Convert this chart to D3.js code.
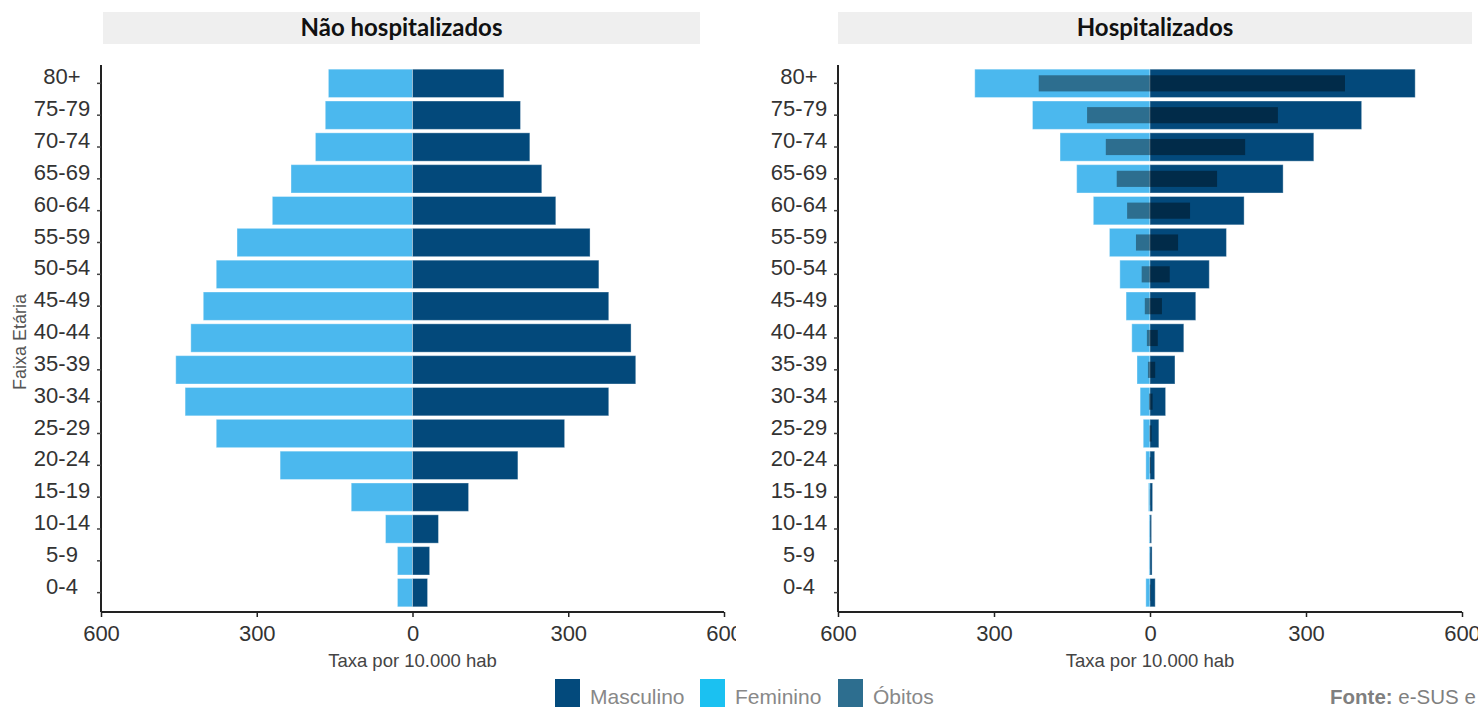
<!DOCTYPE html>
<html>
<head>
<meta charset="utf-8">
<script src="https://cdn.jsdelivr.net/npm/d3@7"></script>
<style>
  html, body { margin: 0; padding: 0; background: #fff; overflow: hidden; }
  svg { display: block; }
</style>
</head>
<body>
<svg id="chart" width="1478" height="707"></svg>
<script>
// ---- Data (top row first) ----
const categories = ["80+","75-79","70-74","65-69","60-64","55-59","50-54","45-49","40-44","35-39","30-34","25-29","20-24","15-19","10-14","5-9","0-4"];

// Não hospitalizados (taxa por 10.000 hab)
const naoHospFeminino  = [162,168,187,234,270,338,378,403,427,456,438,378,255,118,52,29,29];
const naoHospMasculino = [176,208,226,249,276,342,359,378,421,430,378,293,203,108,50,33,29];

// Hospitalizados (taxa por 10.000 hab)
const hospFeminino  = [337,226,173,141,109,78,58,46,35,25,19,13,8,3,2,2,8];
const hospMasculino = [510,407,315,256,181,147,114,88,65,48,30,17,9,5,3,4,10];
const obitosFeminino  = [214,121,85,64,44,27,16,10,6,4,2,1,0.5,0.2,0.1,0.1,0.3];
const obitosMasculino = [375,246,183,129,77,54,38,23,15,10,5,3,1.5,0.5,0.3,0.3,1];

const xTicks = [-600,-300,0,300,600];
const panelTitles = ["Não hospitalizados","Hospitalizados"];
const legendLabels = ["Masculino","Feminino","Óbitos"];

// ---- Styles ----
const colMasc = "#03497B";
const colFem = "#4BB8EE";
const legendColors = ["#034A7C","#1BC1F1","#2D6E8F"];
const tickFont = "'Liberation Sans', Arial, sans-serif";

const svg = d3.select("#chart");

const defs = svg.append("defs");
defs.append("clipPath").attr("id","clipLeft").append("rect")
  .attr("x",0).attr("y",0).attr("width",736).attr("height",707);

const panels = [
  { title: panelTitles[0], axisX: 101, right: 724, boxX: 103, boxW: 597,
    fem: naoHospFeminino, masc: naoHospMasculino, obF: null, obM: null, clip: "url(#clipLeft)" },
  { title: panelTitles[1], axisX: 838, right: 1462, boxX: 838, boxW: 634,
    fem: hospFeminino, masc: hospMasculino, obF: obitosFeminino, obM: obitosMasculino, clip: null }
];

const y = d3.scaleBand().domain(categories).range([66, 610]).paddingInner(0.11).paddingOuter(0.1);
const axisY = 612;

panels.forEach(p => {
  const g = svg.append("g");
  if (p.clip) g.attr("clip-path", p.clip);

  // title box
  g.append("rect").attr("x", p.boxX).attr("y", 12).attr("width", p.boxW).attr("height", 32)
    .attr("fill", "#EFEFEF");
  g.append("text").attr("x", p.boxX + p.boxW / 2).attr("y", 36)
    .attr("text-anchor","middle").attr("font-family","Lato, 'Open Sans', sans-serif")
    .attr("font-weight","bold").attr("font-size", 24).attr("fill","#111")
    .text(p.title);

  const x = d3.scaleLinear().domain([-600, 600]).range([p.axisX, p.right]);

  // female bars (left)
  g.selectAll(".fem").data(categories).enter().append("rect")
    .attr("x", (d,i) => x(-p.fem[i]))
    .attr("y", d => y(d))
    .attr("width", (d,i) => x(0) - x(-p.fem[i]))
    .attr("height", y.bandwidth())
    .attr("fill", colFem)
    .attr("stroke", "#fff").attr("stroke-opacity", 0.35).attr("stroke-width", 1);

  // male bars (right)
  g.selectAll(".masc").data(categories).enter().append("rect")
    .attr("x", x(0))
    .attr("y", d => y(d))
    .attr("width", (d,i) => x(p.masc[i]) - x(0))
    .attr("height", y.bandwidth())
    .attr("fill", colMasc)
    .attr("stroke", "#fff").attr("stroke-opacity", 0.35).attr("stroke-width", 1);

  // óbitos overlay
  if (p.obF) {
    const h = y.bandwidth() * 0.57;
    const off = (y.bandwidth() - h) / 2;
    g.selectAll(".obF").data(categories).enter().append("rect")
      .attr("x", (d,i) => x(-p.obF[i]))
      .attr("y", d => y(d) + off)
      .attr("width", (d,i) => x(0) - x(-p.obF[i]))
      .attr("height", h)
      .attr("fill", "#000").attr("fill-opacity", 0.4);
    g.selectAll(".obM").data(categories).enter().append("rect")
      .attr("x", x(0))
      .attr("y", d => y(d) + off)
      .attr("width", (d,i) => x(p.obM[i]) - x(0))
      .attr("height", h)
      .attr("fill", "#000").attr("fill-opacity", 0.4);
  }

  // x axis
  const xa = g.append("g").attr("transform", `translate(0,${axisY})`)
    .call(d3.axisBottom(x).tickValues(xTicks).tickFormat(d => Math.abs(d)).tickSize(5).tickPadding(8));
  xa.select(".domain").attr("stroke","#222").attr("stroke-width",2)
    .attr("d", `M${p.axisX},0H${p.right}`);
  xa.selectAll(".tick line").attr("stroke","#222").attr("stroke-width",1.5);
  xa.selectAll(".tick text").attr("font-family", tickFont).attr("font-size", 22).attr("fill","#333");

  // y axis
  const ya = g.append("g").attr("transform", `translate(${p.axisX},0)`)
    .call(d3.axisLeft(y).tickSize(4).tickPadding(17));
  ya.select(".domain").attr("stroke","#222").attr("stroke-width",2)
    .attr("d", `M0,65V${axisY}`);
  ya.selectAll(".tick line").attr("stroke","#444").attr("stroke-width",1.5);
  ya.selectAll(".tick text").attr("font-family", tickFont).attr("font-size", 22)
    .attr("fill","#333").attr("dy","0.05em")
    .attr("text-anchor","middle").attr("x", -39);

  // axis title
  g.append("text").attr("x", x(0)).attr("y", 667).attr("text-anchor","middle")
    .attr("font-family", tickFont).attr("font-size", 18.5).attr("fill","#444")
    .text("Taxa por 10.000 hab");
});

// y axis title
svg.append("text").attr("transform","translate(26,342) rotate(-90)")
  .attr("text-anchor","middle").attr("font-family", tickFont).attr("font-size", 18)
  .attr("fill","#555").text("Faixa Etária");

// legend
const legX = [555, 700, 838];
const lg = svg.append("g");
legendLabels.forEach((lab, i) => {
  lg.append("rect").attr("x", legX[i]).attr("y", 679).attr("width", 25).attr("height", 28)
    .attr("fill", legendColors[i]);
  lg.append("text").attr("x", legX[i] + 35).attr("y", 704)
    .attr("font-family", tickFont).attr("font-size", 21).attr("fill","#888").text(lab);
});

// source
const src = svg.append("text").attr("x", 1330).attr("y", 704)
  .attr("font-family", tickFont).attr("font-size", 20.5).attr("fill","#7f7f7f");
src.append("tspan").attr("font-weight","bold").text("Fonte:");
src.append("tspan").text(" e-SUS e SIVEP-Gripe");
</script>
</body>
</html>
